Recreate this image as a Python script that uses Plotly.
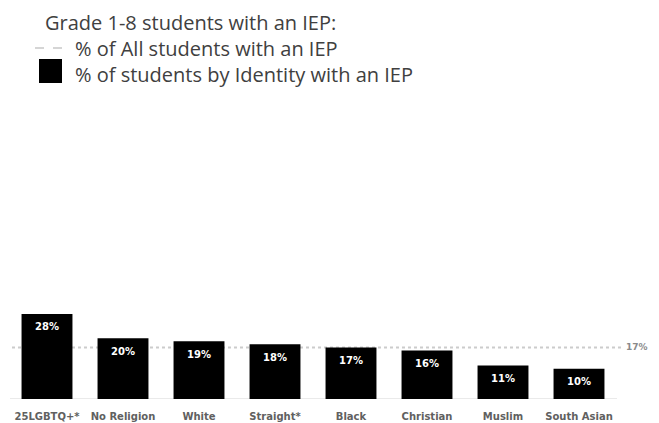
import plotly.graph_objects as go

categories = ["25LGBTQ+*", "No Religion", "White", "Straight*", "Black", "Christian", "Muslim", "South Asian"]
values = [28, 20, 19, 18, 17, 16, 11, 10]
all_students = 17
title_text = "Grade 1-8 students with an IEP:"
legend_all = "% of All students with an IEP"
legend_identity = "% of students by Identity with an IEP"

# the page body adds an 8px margin, so the figure is drawn at (8, 8)
OFF = 8
W, H = 659 - 2 * OFF, 423 - OFF
ML, MR, MT, MB = 1, W - 1 - 608, 291, 24
PW, PH = W - ML - MR, H - MT - MB

def px(x):  # page pixel -> paper x
    return (x - OFF - ML) / PW

def py(y):  # page pixel -> paper y
    return (H - MB - (y - OFF)) / PH

fig = go.Figure()
fig.add_trace(go.Bar(
    x=categories, y=values,
    marker=dict(color="black", line=dict(width=0)),
    showlegend=False,
    hoverinfo="skip",
))

gray = "#404040"
tfont = dict(family="Open Sans", size=20, color=gray)
shapes = [
    dict(type="line", xref="paper", yref="y", x0=px(12), x1=px(621), y0=all_students, y1=all_students,
         layer="below", line=dict(color="#cccccc", width=2, dash="3px,3px")),
    dict(type="line", xref="paper", yref="y", x0=px(10), x1=px(617), y0=0, y1=0,
         layer="below", line=dict(color="#e3e3e3", width=1.5)),
    # legend marks
    dict(type="line", xref="paper", yref="paper", x0=px(35), x1=px(63), y0=py(48), y1=py(48),
         line=dict(color="#c8c8c8", width=1.5, dash="dash")),
    dict(type="rect", xref="paper", yref="paper", x0=px(39), x1=px(62), y0=py(83), y1=py(59),
         fillcolor="black", line=dict(width=0)),
]

annotations = [
    dict(text=title_text, xref="paper", yref="paper", x=px(43), y=py(22), xanchor="left", yanchor="middle",
         showarrow=False, font=tfont),
    dict(text=legend_all, xref="paper", yref="paper", x=px(73), y=py(48), xanchor="left", yanchor="middle",
         showarrow=False, font=tfont),
    dict(text=legend_identity, xref="paper", yref="paper", x=px(73), y=py(74), xanchor="left", yanchor="middle",
         showarrow=False, font=tfont),
    dict(text=f"{all_students}%", xref="paper", yref="y", x=px(650), y=all_students, xanchor="right", yanchor="middle",
         showarrow=False, font=dict(family="DejaVu Sans", size=9, color="#8a8a8a", weight="bold")),
]
for c, v in zip(categories, values):
    annotations.append(dict(text=f"{v}%", x=c, y=v, xref="x", yref="y", yanchor="middle", yshift=-13,
                            showarrow=False,
                            font=dict(family="DejaVu Sans", size=10, color="white", weight="bold")))

fig.update_layout(
    width=W, height=H,
    margin=dict(l=ML, r=MR, t=MT, b=MB, pad=0),
    paper_bgcolor="white", plot_bgcolor="white",
    bargap=0.33,
    xaxis=dict(showgrid=False, showline=False, zeroline=False, ticks="", ticklen=0,
               ticklabelstandoff=10,
               tickfont=dict(family="DejaVu Sans", size=10, color="#606060", weight="bold")),
    yaxis=dict(range=[0, PH / 3.036], visible=False, showgrid=False, zeroline=False),
    shapes=shapes, annotations=annotations,
    showlegend=False,
)

fig.write_html("out.html")
